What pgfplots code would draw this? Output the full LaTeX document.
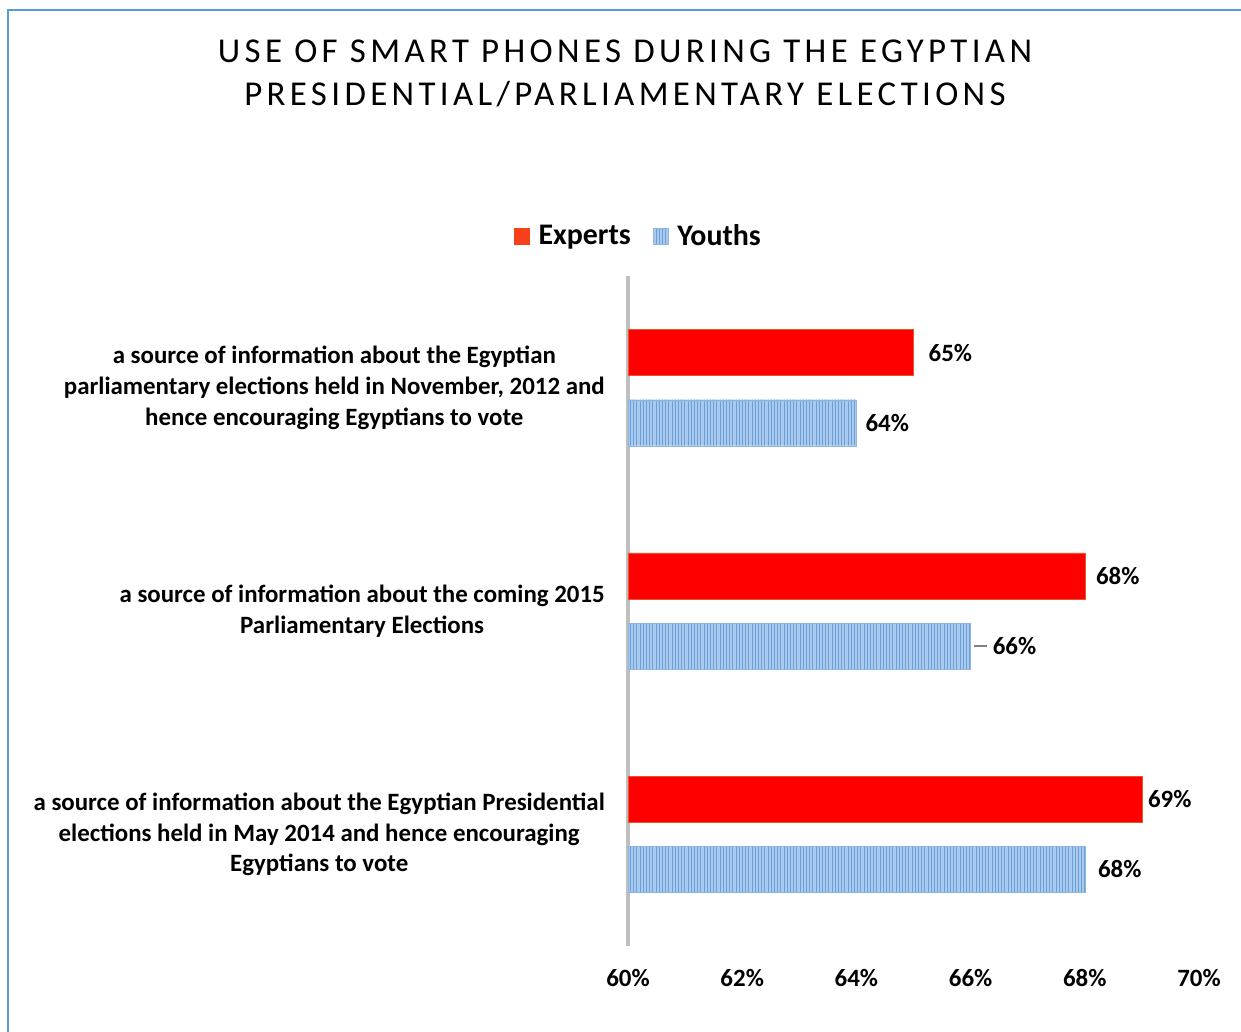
\documentclass[border=0pt]{standalone}
\usepackage{pgfplots}
\pgfplotsset{compat=1.18}
\usepackage{pgfplotstable}
\usetikzlibrary{patterns.meta}
\usepackage{fontspec}
\setmainfont{Carlito}
\newfontfamily\titlefont[LetterSpace=12.5]{Carlito}
\definecolor{exp}{HTML}{FF0000}
\definecolor{expleg}{HTML}{F5401A}
\definecolor{expedge}{HTML}{E8542E}
\definecolor{youfill}{HTML}{A9CAEC}
\definecolor{youline}{HTML}{6A9FD9}
\definecolor{youedge}{HTML}{8DB6E3}
\definecolor{frame}{HTML}{5B9BD5}
\definecolor{axgray}{HTML}{BFBFBF}

\pgfplotstableread{
y x dx
-0.157 65 15
0.843 68 11
1.843 69 6
}\expdata
\pgfplotstableread{
y x dx
0.157 64 9
1.157 66 22
2.157 68 13
}\youdata

\begin{document}
\begin{tikzpicture}
\useasboundingbox (0,0) rectangle (1241bp,-1032bp);
\clip (0,0) rectangle (1241bp,-1032bp);
\fill[white] (0,0) rectangle (1241bp,-1032bp);
\draw[frame, line width=2bp] (8bp,-10bp) rectangle (1270bp,-1060bp);

\node[font=\titlefont\fontsize{35}{40}\selectfont, anchor=base] at (625bp,-62bp) {USE OF SMART PHONES DURING THE EGYPTIAN};
\node[font=\titlefont\fontsize{35}{40}\selectfont, anchor=base] at (625bp,-105bp) {PRESIDENTIAL/PARLIAMENTARY ELECTIONS};

\begin{axis}[
  at={(628bp,-946bp)}, anchor=south west,
  width=571bp, height=670bp, scale only axis,
  xmin=60, xmax=70, ymin=-0.5, ymax=2.5,
  y dir=reverse,
  enlargelimits=false,
  axis lines*=left,
  x axis line style={draw=none},
  y axis line style={draw=axgray, line width=3bp},
  major tick length=0pt,
  xtick={60,62,64,66,68,70},
  xticklabels={60\%,62\%,64\%,66\%,68\%,70\%},
  xticklabel style={font=\bfseries\fontsize{25}{28}\selectfont, anchor=base, yshift=-40bp, inner sep=0pt},
  ytick={0,1,2},
  yticklabels={{a source of information about the Egyptian\\parliamentary elections held in November, 2012 and\\hence encouraging Egyptians to vote},
               {a source of information about the coming 2015\\Parliamentary Elections},
               {a source of information about the Egyptian Presidential\\elections held in May 2014 and hence encouraging\\Egyptians to vote}},
  yticklabel style={font=\bfseries\fontsize{25}{31}\selectfont, align=center, anchor=east, inner sep=0pt, xshift=-23bp},
  legend columns=2,
  legend style={draw=none, fill=none, at={(axis description cs:0.0184,1.0597)}, anchor=center,
    font=\bfseries\fontsize{30}{33}\selectfont,
    /tikz/every even column/.append style={column sep=20bp}},
  legend image code/.code={\fill[#1] (0bp,-8bp) rectangle (15bp,8bp); \path (22bp,0bp);},
  point meta=x,
  nodes near coords={\pgfmathprintnumber[fixed,precision=0,assume math mode=true]{\pgfplotspointmeta}\%},
  visualization depends on={\thisrow{dx} \as \dx},
  nodes near coords style={anchor=west, xshift=\dx*1bp, inner sep=0pt, font=\bfseries\fontsize{25}{28}\selectfont, text=black},
]
\addplot[xbar, bar width=46bp, bar shift=0pt, fill=exp, draw=expedge,
  legend image code/.code={\fill[expleg] (0bp,-8bp) rectangle (15bp,8bp); \path (22bp,0bp);}] table[x=x,y=y] {\expdata};
\addlegendentry{Experts}
\addplot[xbar, bar width=46bp, bar shift=0pt, fill=youfill, draw=youedge, postaction={pattern={Lines[angle=90, distance=3.2bp, line width=0.9bp]}, pattern color=youline}] table[x=x,y=y] {\youdata};
\addlegendentry{Youths}
\draw[gray, line width=1.5bp] (axis cs:66.06,1.157) -- (axis cs:66.28,1.157);
\end{axis}
\end{tikzpicture}
\end{document}
